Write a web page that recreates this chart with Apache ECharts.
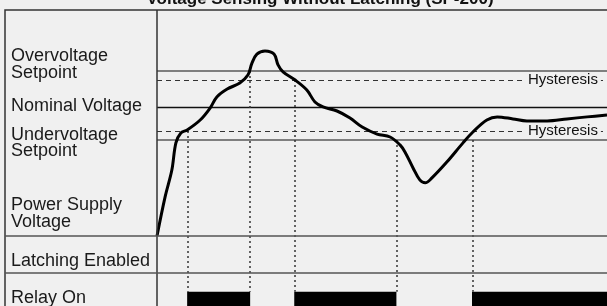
<!DOCTYPE html>
<html>
<head>
<meta charset="utf-8">
<script src="https://cdn.jsdelivr.net/npm/echarts@6/dist/echarts.min.js"></script>
<style>
  html, body { margin: 0; padding: 0; background: #f0f0f0; }
  #chart { width: 607px; height: 306px; }
</style>
</head>
<body>
<div id="chart"></div>
<script>
// time axis 0..100, voltage axis in % of panel (0 = bottom of voltage row)
var titleText = 'Voltage Sensing Without Latching (SP-200)';

var overvoltage = 73;
var overHyst = 69;
var nominal = 56.8;
var underHyst = 46.5;
var undervoltage = 42.5;

var supplyVoltage = [
  [0, 0], [1.8, 17.3], [3.3, 29.2], [4.2, 41.2], [5.3, 45.6], [6.7, 46.9],
  [9.6, 51.3], [11.8, 56.6], [13.3, 61.5], [15.6, 65.0], [18.4, 67.7],
  [20.2, 71.2], [21.1, 76.5], [22.2, 80.5], [24.0, 81.9], [26.0, 80.5],
  [26.9, 75.7], [28.0, 72.6], [30.7, 69.0], [33.3, 64.6], [35.1, 59.3],
  [36.9, 57.1], [40.0, 55.3], [42.9, 52.2], [45.6, 48.2], [48.9, 45.1],
  [51.8, 43.8], [54.0, 40.3], [55.1, 37.2], [56.9, 30.1], [58.4, 24.8],
  [59.6, 23.5], [61.1, 25.7], [64.4, 32.7], [68.0, 41.2], [70.2, 46.0],
  [73.3, 51.3], [75.6, 52.7], [79.1, 51.8], [82.2, 50.9], [86.7, 50.9],
  [91.1, 51.8], [95.6, 52.7], [100, 53.5]
];

// switching instants and the level that triggered each one
var switchTimes = [6.8, 20.7, 30.6, 53.2, 70.1];
var switchLevels = [underHyst, overvoltage, overHyst, undervoltage, undervoltage];
var relayOn = [[6.7, 20.7], [30.5, 53.2], [70.0, 100]];
var relayLevel = -24.65;
var axisBottom = -31;

var rowLabels = [
  ['Overvoltage\nSetpoint', 64.5],
  ['Nominal Voltage', 105.7],
  ['Undervoltage\nSetpoint', 143],
  ['Power Supply\nVoltage', 213.7],
  ['Latching Enabled', 261],
  ['Relay On', 298]
];

var chart = echarts.init(document.getElementById('chart'));

var levelLines = [
  { yAxis: overvoltage, lineStyle: { color: '#5a5a5a', width: 1.5, type: 'solid' } },
  { yAxis: overHyst, lineStyle: { color: '#333', width: 1, type: [5, 4] } },
  { yAxis: nominal, lineStyle: { color: '#111', width: 1.3, type: 'solid' } },
  { yAxis: underHyst, lineStyle: { color: '#333', width: 1, type: [5, 4] } },
  { yAxis: undervoltage, lineStyle: { color: '#5a5a5a', width: 1.5, type: 'solid' } }
];

var dropLines = switchTimes.map(function (t, i) {
  return [{ coord: [t, switchLevels[i]] }, { coord: [t, relayLevel] }];
});

var relayAreas = relayOn.map(function (r) {
  return [{ coord: [r[0], relayLevel] }, { coord: [r[1], axisBottom] }];
});

var graphics = [
  { type: 'rect', shape: { x: 5, y: 10, width: 620, height: 320 },
    style: { fill: 'none', stroke: '#333', lineWidth: 1.5 }, z: 10 },
  { type: 'line', shape: { x1: 157, y1: 10, x2: 157, y2: 306 },
    style: { stroke: '#333', lineWidth: 1.5 }, z: 10 },
  { type: 'line', shape: { x1: 5, y1: 236, x2: 607, y2: 236 },
    style: { stroke: '#555', lineWidth: 1.5 }, z: 10 },
  { type: 'line', shape: { x1: 5, y1: 273, x2: 607, y2: 273 },
    style: { stroke: '#555', lineWidth: 1.5 }, z: 10 }
];
rowLabels.forEach(function (l) {
  graphics.push({
    type: 'text', z: 10,
    style: {
      text: l[0], x: 11, y: l[1], align: 'left', verticalAlign: 'middle',
      font: '18px "Liberation Sans", Arial, sans-serif', lineHeight: 16.5, fill: '#1a1a1a'
    }
  });
});

chart.setOption({
  backgroundColor: '#f0f0f0',
  animation: false,
  title: {
    text: titleText, left: 315, textAlign: 'center', top: -14,
    textStyle: { fontFamily: '"Liberation Sans", Arial, sans-serif', fontSize: 17, fontWeight: 'bold', color: '#111' }
  },
  grid: { left: 157, right: 0, top: 10, bottom: 0 },
  xAxis: { type: 'value', min: 0, max: 100, show: false },
  yAxis: { type: 'value', min: axisBottom, max: 100, show: false },
  graphic: graphics,
  series: [
    {
      type: 'line', data: [], silent: true,
      markLine: { symbol: 'none', silent: true, label: { show: false }, data: levelLines }
    },
    {
      type: 'line', data: [], silent: true,
      markLine: {
        symbol: 'none', silent: true, label: { show: false },
        lineStyle: { color: '#333', width: 1.5, type: [2, 3] },
        data: dropLines
      },
      markArea: {
        silent: true, itemStyle: { color: '#000' }, data: relayAreas
      }
    },
    {
      type: 'scatter', symbolSize: 0, silent: true, z: 5,
      data: [[90.2, overHyst], [90.2, underHyst]],
      itemStyle: { color: '#000', opacity: 1 },
      label: {
        show: true, position: 'inside', formatter: 'Hysteresis',
        fontFamily: '"Liberation Sans", Arial, sans-serif', fontSize: 15, color: '#111',
        backgroundColor: '#f0f0f0', padding: [0, 3]
      }
    },
    {
      type: 'line', data: supplyVoltage, smooth: 0.35, showSymbol: false, silent: true, z: 6,
      lineStyle: { color: '#000', width: 3 }
    }
  ]
});
</script>
</body>
</html>
